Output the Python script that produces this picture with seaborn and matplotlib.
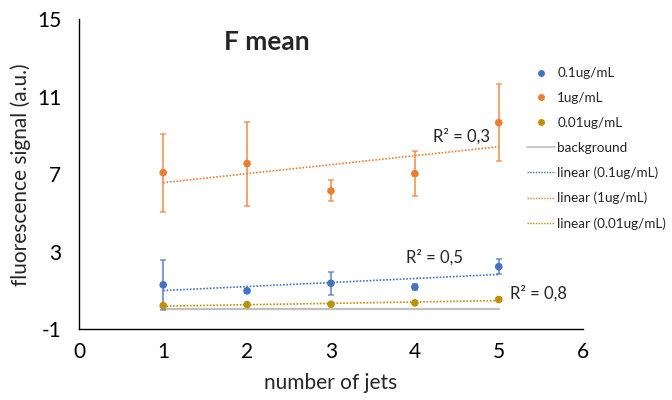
import numpy as np
import pandas as pd
import matplotlib
matplotlib.use("Agg")
import matplotlib.pyplot as plt
from matplotlib.lines import Line2D
import seaborn as sns

# Data
jets = [1, 2, 3, 4, 5]
series_names = ["0.1ug/mL", "1ug/mL", "0.01ug/mL"]
mean_01 = [1.29, 0.98, 1.37, 1.18, 2.23]
err_01 = [1.29, 0.10, 0.60, 0.15, 0.40]
mean_1 = [7.08, 7.55, 6.14, 7.03, 9.66]
err_1 = [2.02, 2.17, 0.54, 1.16, 2.00]
mean_001 = [0.22, 0.27, 0.29, 0.36, 0.53]
err_001 = [0.05, 0.05, 0.04, 0.04, 0.04]
background = [0.05, 0.05, 0.05, 0.05, 0.05]
r2_labels = ["R² = 0,5", "R² = 0,3", "R² = 0,8"]
x_ticks = [0, 1, 2, 3, 4, 5, 6]
y_ticks = [-1, 3, 7, 11, 15]

colors = ["#4472C4", "#ED7D31", "#BF9000"]
gray = "#BFBFBF"

sns.set_theme(style="white")
plt.rcParams["font.family"] = ["Lato", "DejaVu Sans"]
plt.rcParams["axes.unicode_minus"] = False

fig = plt.figure(figsize=(6.72, 4.0), dpi=100)
ax = fig.add_axes([0.118, 0.177, 0.749, 0.775])

means = [mean_01, mean_1, mean_001]
errs = [err_01, err_1, err_001]

df = pd.DataFrame({
    "jets": jets * 3,
    "signal": mean_01 + mean_1 + mean_001,
    "series": sum([[n] * len(jets) for n in series_names], []),
})

# background reference line
sns.lineplot(x=jets, y=background, color=gray, lw=1.6, ax=ax, zorder=1)

# error bars
for m, e, c in zip(means, errs, colors):
    ax.errorbar(jets, m, yerr=e, fmt="none", ecolor=c, alpha=0.75,
                elinewidth=1.3, capsize=2.5, capthick=1.1, zorder=2)

# linear trend lines
for m, c in zip(means, colors):
    sns.regplot(x=np.array(jets, dtype=float), y=np.array(m), scatter=False,
                ci=None, truncate=True, ax=ax,
                line_kws=dict(color=c, lw=1.2, ls=(0, (1, 1)), zorder=3))

# data points
sns.scatterplot(data=df, x="jets", y="signal", hue="series",
                palette=dict(zip(series_names, colors)), s=30,
                edgecolor="none", legend=False, ax=ax, zorder=4)

# R² annotations
ax.text(3.90, 2.72, r2_labels[0], fontsize=12, va="center", ha="left")
ax.text(4.22, 8.93, r2_labels[1], fontsize=12, va="center", ha="left")
ax.text(5.13, 0.86, r2_labels[2], fontsize=12, va="center", ha="left")

ax.set_xlim(0, 6)
ax.set_ylim(-1, 15)
ax.set_xticks(x_ticks)
ax.set_yticks(y_ticks)
ax.tick_params(axis="both", direction="in", length=4, width=0.8,
               colors="#595959", labelcolor="black", labelsize=15)
ax.tick_params(axis="x", pad=9)
ax.tick_params(axis="y", pad=13)
for side in ["top", "right"]:
    ax.spines[side].set_visible(False)
for side in ["left", "bottom"]:
    ax.spines[side].set_color("black")
    ax.spines[side].set_linewidth(1.0)

ax.set_xlabel("number of jets", fontsize=15, labelpad=8)
ax.set_ylabel("fluorescence signal (a.u.)", fontsize=15, labelpad=4)
ax.text(2.24, 13.83, "F mean", fontsize=19, fontweight="bold", ha="center", va="center")

# legend
handles = [Line2D([], [], ls="none", marker="o", ms=5, mec="none", color=c) for c in colors]
handles.append(Line2D([], [], color=gray, lw=1.2))
handles += [Line2D([], [], color=c, lw=1.0, ls=(0, (1, 1))) for c in colors]
labels = series_names + ["background"] + [f"linear ({n})" for n in series_names]
fig.legend(handles, labels, loc="upper left", bbox_to_anchor=(0.776, 0.845),
           frameon=False, fontsize=9.7, handlelength=2.1, handletextpad=0.15,
           labelspacing=0.95, borderaxespad=0)

fig.savefig("out.png", dpi=100)
